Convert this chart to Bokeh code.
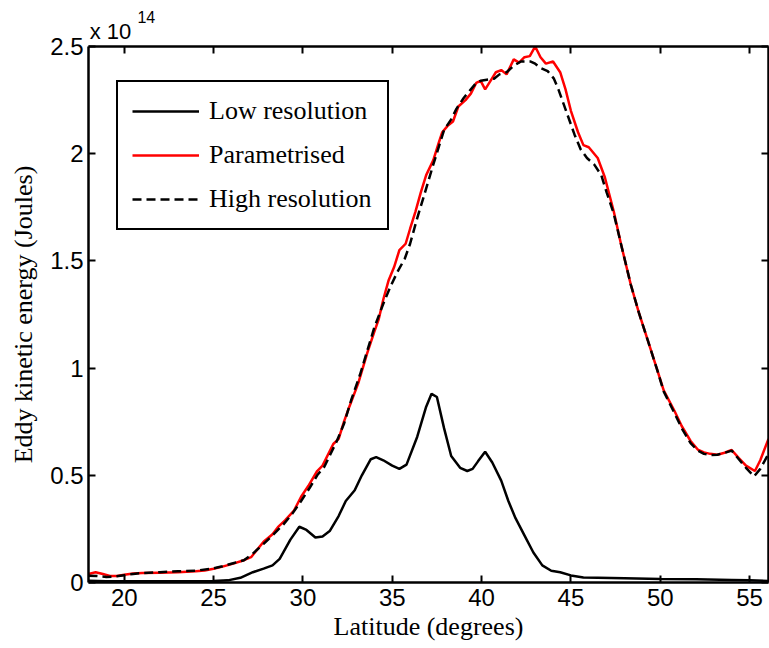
from bokeh.plotting import figure
from bokeh.models import Range1d, FixedTicker, LinearAxis, Legend, LegendItem, Label
from bokeh.embed import file_html
from bokeh.resources import INLINE

# ---- data (energy in units of 1e14 J) ----
lat_low = [18.0, 19.0, 20.0, 21.0, 22.0, 23.0, 24.0, 25.0, 25.8, 26.5, 27.2, 27.8, 28.3, 28.7,
           29.3, 29.8, 30.2, 30.7, 31.1, 31.5, 32.0, 32.4, 32.9, 33.3, 33.8, 34.1, 34.5, 35.0,
           35.4, 35.8, 36.4, 36.9, 37.2, 37.5, 37.9, 38.3, 38.8, 39.2, 39.5, 39.8, 40.2, 40.6,
           41.1, 41.5, 41.9, 42.4, 42.9, 43.4, 43.9, 44.4, 45.0, 45.7, 46.5, 48.0, 50.0, 52.0,
           54.0, 55.0, 56.06]
eke_low = [0.008, 0.006, 0.006, 0.006, 0.006, 0.006, 0.006, 0.007, 0.010, 0.022, 0.048, 0.065,
           0.080, 0.11, 0.20, 0.26, 0.245, 0.21, 0.215, 0.24, 0.31, 0.38, 0.43, 0.50, 0.575,
           0.585, 0.57, 0.545, 0.53, 0.55, 0.68, 0.82, 0.88, 0.865, 0.72, 0.59, 0.535, 0.52,
           0.53, 0.565, 0.61, 0.56, 0.475, 0.38, 0.30, 0.22, 0.14, 0.08, 0.055, 0.048, 0.033,
           0.023, 0.022, 0.020, 0.016, 0.015, 0.012, 0.010, 0.007]

lat_par = [18.0, 18.4, 18.8, 19.2, 19.6, 20.0, 20.5, 21.0, 22.0, 23.0, 24.0, 24.5, 25.0, 25.5,
           26.1, 26.7, 27.1, 27.8, 28.3, 28.6, 29.0, 29.5, 29.9, 30.3, 30.8, 31.1, 31.7, 32.0,
           32.3, 32.6, 33.1, 33.6, 34.0, 34.25, 34.5, 34.8, 35.1, 35.4, 35.75, 36.0, 36.3, 36.6,
           36.9, 37.3, 37.6, 37.8, 38.1, 38.4, 38.7, 39.1, 39.4, 39.7, 39.95, 40.2, 40.5, 40.8,
           41.1, 41.4, 41.8, 42.1, 42.4, 42.7, 43.0, 43.3, 43.6, 44.0, 44.4, 44.7, 45.0, 45.4,
           45.7, 46.0, 46.5, 46.9, 47.4, 47.8, 48.35, 48.8, 49.3, 49.8, 50.2, 50.8, 51.2, 51.7,
           52.1, 52.45, 52.8, 53.2, 53.6, 54.0, 54.4, 54.8, 55.3, 55.6, 56.06]
eke_par = [0.040, 0.048, 0.040, 0.030, 0.030, 0.036, 0.042, 0.044, 0.046, 0.048, 0.052, 0.056,
           0.064, 0.074, 0.088, 0.104, 0.118, 0.19, 0.225, 0.258, 0.29, 0.335, 0.40, 0.45, 0.52,
           0.545, 0.646, 0.67, 0.75, 0.82, 0.93, 1.07, 1.17, 1.23, 1.32, 1.41, 1.47, 1.55, 1.58,
           1.65, 1.73, 1.82, 1.90, 1.97, 2.05, 2.10, 2.13, 2.15, 2.22, 2.25, 2.28, 2.33, 2.34,
           2.30, 2.34, 2.38, 2.39, 2.37, 2.44, 2.425, 2.45, 2.455, 2.50, 2.45, 2.42, 2.43, 2.38,
           2.30, 2.20, 2.10, 2.04, 2.03, 1.98, 1.89, 1.73, 1.58, 1.39, 1.26, 1.13, 1.00, 0.895,
           0.80, 0.73, 0.66, 0.62, 0.607, 0.60, 0.596, 0.605, 0.618, 0.58, 0.545, 0.52, 0.57,
           0.67]

lat_high = [18.0, 18.5, 19.0, 19.5, 20.0, 20.5, 21.0, 22.0, 23.0, 24.0, 25.0, 25.5, 26.1, 26.7,
            27.2, 27.8, 28.3, 28.9, 29.4, 29.9, 30.4, 30.8, 31.2, 31.9, 32.3, 32.7, 33.2, 33.6,
            34.0, 34.5, 34.9, 35.3, 35.7, 36.0, 36.4, 36.8, 37.3, 37.9, 38.3, 38.6, 39.0, 39.4,
            39.7, 39.95, 40.3, 40.7, 41.0, 41.4, 41.8, 42.2, 42.75, 43.0, 43.3, 43.7, 44.05, 44.3,
            44.6, 45.2, 45.55, 45.9, 46.3, 46.7, 47.0, 47.4, 47.8, 48.35, 48.8, 49.3, 49.8, 50.2,
            50.8, 51.2, 51.7, 52.1, 52.45, 52.8, 53.2, 53.6, 54.0, 54.4, 54.8, 55.25, 55.6, 56.06]
eke_high = [0.032, 0.030, 0.026, 0.028, 0.034, 0.040, 0.044, 0.048, 0.052, 0.055, 0.066, 0.076,
            0.090, 0.104, 0.135, 0.18, 0.22, 0.27, 0.32, 0.38, 0.444, 0.50, 0.54, 0.66, 0.74,
            0.85, 0.97, 1.08, 1.19, 1.30, 1.38, 1.45, 1.51, 1.58, 1.70, 1.81, 1.95, 2.11, 2.16,
            2.21, 2.26, 2.30, 2.33, 2.34, 2.345, 2.35, 2.37, 2.38, 2.41, 2.43, 2.43, 2.42, 2.40,
            2.385, 2.35, 2.30, 2.23, 2.09, 2.02, 1.98, 1.95, 1.90, 1.82, 1.72, 1.58, 1.39, 1.26,
            1.13, 1.00, 0.89, 0.79, 0.72, 0.65, 0.615, 0.60, 0.595, 0.596, 0.605, 0.615, 0.575,
            0.535, 0.495, 0.53, 0.60]

x_ticks = [20, 25, 30, 35, 40, 45, 50, 55]
y_ticks = [0, 0.5, 1, 1.5, 2, 2.5]
y_tick_labels = ["0", "0.5", "1", "1.5", "2", "2.5"]
series_names = ["Low resolution", "Parametrised", "High resolution"]
exp_base = "x 10"
exp_power = "14"

SANS = "Liberation Sans"
SERIF = "Liberation Serif"

p = figure(width=769, height=648, output_backend="svg", toolbar_location=None,
           x_range=Range1d(18, 56.06), y_range=Range1d(0, 2.5),
           min_border_left=88, min_border_right=1, min_border_top=46, min_border_bottom=66,
           x_axis_label="Latitude (degrees)", y_axis_label="Eddy kinetic energy (Joules)")
p.grid.visible = False
p.outline_line_color = None
p.background_fill_color = "white"

r_low = p.line(lat_low, eke_low, line_color="black", line_width=2.5)
r_par = p.line(lat_par, eke_par, line_color="#ff0000", line_width=2.5)
r_high = p.line(lat_high, eke_high, line_color="black", line_width=2.5, line_dash="9 5")

def style_axis(ax, ticks, show_labels):
    ax.ticker = FixedTicker(ticks=ticks)
    ax.axis_line_width = 2.5
    ax.axis_line_color = "black"
    ax.major_tick_in = 7
    ax.major_tick_out = 0
    ax.major_tick_line_width = 2
    ax.major_tick_line_color = "black"
    ax.minor_tick_line_color = None
    if show_labels:
        ax.major_label_text_font = SANS
        ax.major_label_text_font_size = "24px"
        ax.major_label_text_color = "black"
        ax.axis_label_text_font = SERIF
        ax.axis_label_text_font_size = "26px"
        ax.axis_label_text_font_style = "normal"
        ax.axis_label_text_color = "black"
    else:
        ax.major_label_text_font_size = "1px"
        ax.major_label_text_color = None
        ax.major_label_standoff = 0

xa = p.xaxis[0]
ya = p.yaxis[0]
style_axis(xa, x_ticks, True)
style_axis(ya, y_ticks, True)
xa.major_label_standoff = 6
xa.axis_label_standoff = 3
ya.major_label_standoff = 5
ya.axis_label_standoff = 9
ya.major_label_overrides = {t: s for t, s in zip(y_ticks, y_tick_labels)}

top = LinearAxis()
style_axis(top, x_ticks, False)
p.add_layout(top, "above")
right = LinearAxis()
style_axis(right, y_ticks, False)
p.add_layout(right, "right")

legend = Legend(items=[LegendItem(label=series_names[0], renderers=[r_low]),
                       LegendItem(label=series_names[1], renderers=[r_par]),
                       LegendItem(label=series_names[2], renderers=[r_high])],
                location=(28, 352), padding=14, spacing=14, glyph_width=67, glyph_height=30,
                label_height=30, label_width=164, label_standoff=10, margin=0,
                border_line_color="black", border_line_width=2.5, border_line_alpha=1.0,
                label_text_font=SERIF, label_text_font_size="26px", label_text_color="black",
                background_fill_color="white", background_fill_alpha=1)
p.add_layout(legend)

# exponent label above the top-left corner of the axes (placed in the side panel so it is not clipped)
p.add_layout(Label(x=18.07, y=2.572, text=exp_base,
                   text_font=SANS, text_font_size="22px", text_color="black",
                   text_baseline="alphabetic"), "above")
p.add_layout(Label(x=20.74, y=2.638, text=exp_power,
                   text_font=SANS, text_font_size="16px", text_color="black",
                   text_baseline="alphabetic"), "above")

open("out.html", "w").write(file_html(p, INLINE))
